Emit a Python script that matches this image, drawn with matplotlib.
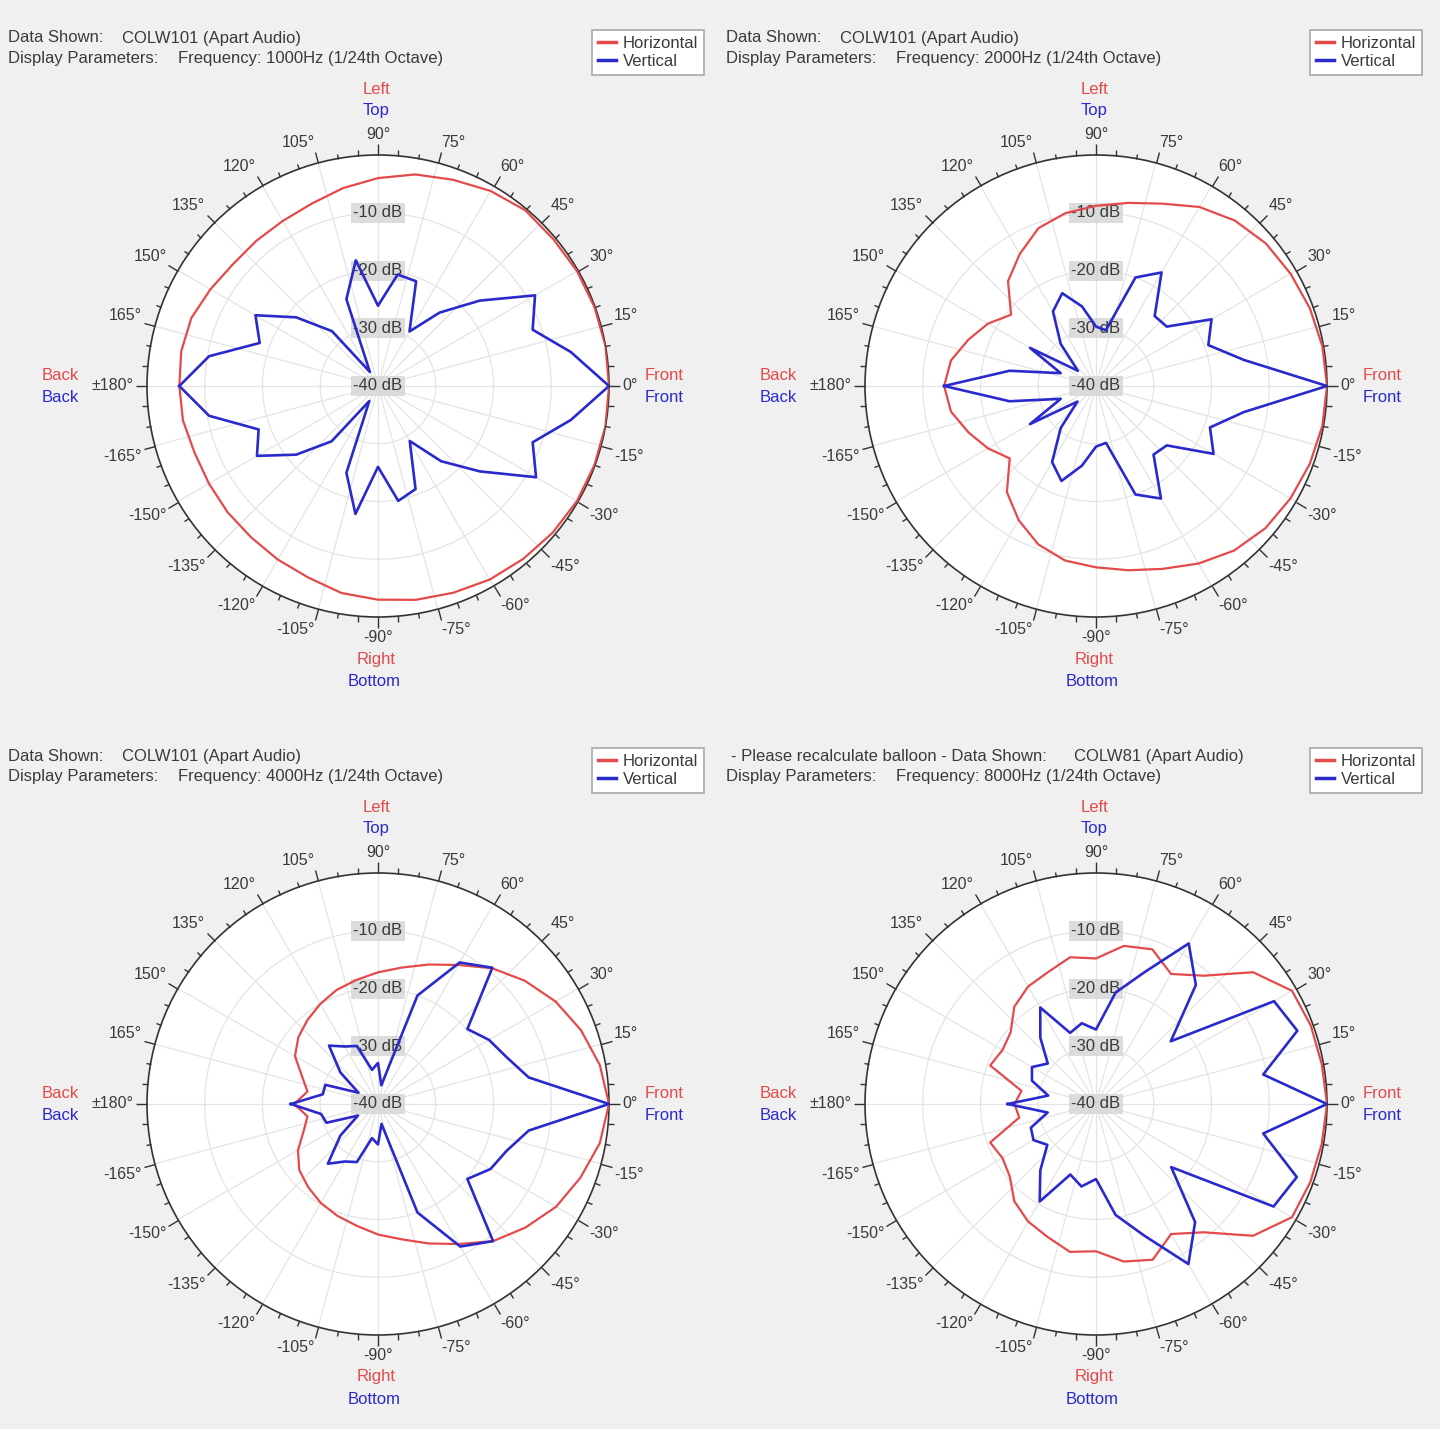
import numpy as np
import matplotlib
matplotlib.use("Agg")
import matplotlib.pyplot as plt
from matplotlib.lines import Line2D
from matplotlib.ticker import FixedLocator

plt.rcParams['font.family'] = ['Liberation Sans', 'DejaVu Sans']

# angles in degrees, -180 .. 180 every 10 deg
ANGLES = list(range(-180, 181, 10))

# 1000 Hz
P1_H = [-5.6, -5.7, -6.2, -6.2, -6.0, -5.8, -5.3, -4.7, -3.6, -3.0, -2.4, -1.9, -1.3, -0.9, -0.5, -0.2, -0.1, 0.0,
        0.0, 0.0, -0.1, -0.2, -0.4, -0.3, -1.0, -2.0, -2.8, -4.0, -5.2, -6.4, -7.0, -7.2, -7.2, -6.5, -5.6, -5.4, -5.6]
P1_V = [-5.6, -10.3, -18.0, -15.8, -21.5, -27.5, -37.0, -24.0, -17.5, -26.0, -19.8, -21.0, -29.0, -23.0, -17.0, -8.4, -11.5, -6.1,
        0.0, -6.1, -11.5, -8.6, -17.0, -23.4, -29.1, -20.7, -20.4, -26.1, -17.9, -24.0, -37.2, -27.6, -21.5, -15.5, -18.2, -10.3, -5.6]

# 2000 Hz
P2_H = [-13.7, -14.5, -16.5, -18.4, -20.5, -16.0, -13.2, -10.8, -9.3, -8.6, -7.6, -6.3, -4.5, -2.8, -1.7, -1.1, -0.6, -0.2,
        0.0, -0.2, -0.6, -1.1, -1.6, -2.6, -4.2, -6.4, -7.8, -8.8, -9.6, -10.9, -13.6, -16.3, -20.8, -18.4, -16.5, -14.5, -13.7]
P2_V = [-13.7, -24.8, -33.5, -26.8, -35.8, -30.5, -24.8, -22.5, -26.0, -29.5, -30.0, -20.0, -17.5, -24.5, -24.0, -16.5, -19.0, -14.0,
        0.0, -14.0, -19.3, -16.9, -24.0, -24.2, -17.3, -20.0, -30.2, -29.7, -26.0, -22.9, -25.1, -30.5, -35.9, -26.8, -33.5, -24.8, -13.7]

# 4000 Hz
P3_H = [-25.5, -27.6, -26.3, -24.0, -22.2, -21.2, -20.2, -19.4, -18.6, -17.4, -16.2, -14.3, -12.0, -9.0, -6.7, -4.4, -2.7, -1.0,
        0.0, -1.0, -2.6, -4.5, -6.8, -9.3, -12.2, -14.3, -16.0, -17.2, -18.2, -19.0, -20.0, -21.0, -22.0, -23.4, -26.0, -27.6, -25.5]
P3_V = [-24.9, -30.0, -30.5, -36.0, -31.5, -26.5, -28.5, -29.3, -34.0, -33.0, -36.5, -20.0, -11.5, -9.0, -19.8, -17.5, -16.3, -13.5,
        0.0, -13.5, -16.3, -17.8, -19.8, -9.2, -11.7, -20.0, -36.7, -32.9, -34.0, -29.3, -28.5, -26.8, -31.5, -36.1, -30.3, -30.3, -24.9]

# 8000 Hz
P4_H = [-25.9, -26.5, -20.5, -21.3, -20.5, -18.0, -16.5, -15.5, -14.0, -14.5, -12.3, -11.3, -14.0, -11.0, -4.5, -0.8, -0.5, -0.3,
        0.0, -0.3, -0.4, -0.8, -4.5, -11.0, -14.0, -11.5, -12.2, -14.8, -14.2, -15.7, -16.5, -18.0, -20.7, -21.3, -20.5, -26.9, -25.9]
P4_V = [-24.7, -31.5, -28.0, -27.5, -29.0, -25.0, -20.5, -27.0, -25.5, -27.0, -20.5, -15.8, -8.0, -13.3, -23.0, -4.5, -3.0, -10.6,
        0.0, -10.6, -2.9, -4.4, -23.1, -13.1, -7.9, -15.8, -20.4, -27.1, -25.8, -26.9, -20.7, -25.0, -29.1, -27.2, -28.2, -31.6, -24.7]

DATA_NAMES = ["COLW101 (Apart Audio)", "COLW101 (Apart Audio)", "COLW101 (Apart Audio)", "COLW81 (Apart Audio)"]
FREQS = ["1000Hz", "2000Hz", "4000Hz", "8000Hz"]
DB_LABELS = [-10, -20, -30, -40]

RED = '#e44a4a'
BLUE = '#2a2acc'
TXT = '#3a3a3a'

W, H = 1440, 1429
R = 231
fig = plt.figure(figsize=(W / 100, H / 100), dpi=100, facecolor='#f0f0f0')


def fx(x):
    return x / W


def fy(y):
    return 1 - y / H


panels = [
    (0, 0, P1_H, P1_V),
    (718, 0, P2_H, P2_V),
    (0, 718, P3_H, P3_V),
    (718, 718, P4_H, P4_V),
]

for i, (ox, oy, hor, ver) in enumerate(panels):
    cx, cy = ox + 378, oy + 386
    ax = fig.add_axes([fx(cx - R), fy(cy + R), 2 * R / W, 2 * R / H], projection='polar')
    ax.set_facecolor('white')
    ax.set_ylim(-40, 0)
    ax.set_yticks([-30, -20, -10])
    ax.set_yticklabels([])
    ax.tick_params(axis='y', length=0)
    ax.set_xticks(np.radians(np.arange(0, 360, 15)))
    ax.set_xticklabels([])
    ax.xaxis.set_minor_locator(FixedLocator(np.radians(np.arange(0, 360, 5))))
    # outer ring ticks (tick2 = outer edge of a polar axes)
    ax.tick_params(axis='x', which='both', top=True, bottom=False, direction='out', color='#333333', width=1)
    ax.tick_params(axis='x', which='major', length=8)
    ax.tick_params(axis='x', which='minor', length=4)
    ax.grid(True, color='#e4e4e4', lw=0.9)
    ax.spines['polar'].set_color('#333333')
    ax.spines['polar'].set_linewidth(1.2)

    th = np.radians(ANGLES)
    ax.plot(th, hor, color=RED, lw=1.6, zorder=4)
    ax.plot(th, ver, color=BLUE, lw=1.9, zorder=5)

    # dB labels up the 90 deg line
    for v in DB_LABELS:
        ax.text(np.pi / 2, v, f"{v} dB", ha='center', va='center', fontsize=12, color=TXT, zorder=2,
                bbox=dict(boxstyle='square,pad=0.15', fc='#d6d6d6', ec='none', alpha=0.85))

    # angle labels
    for a in range(-165, 181, 15):
        t = np.radians(a)
        c, s = np.cos(t), np.sin(t)
        ha = 'left' if c > 0.2 else ('right' if c < -0.2 else 'center')
        va = 'bottom' if s > 0.2 else ('top' if s < -0.2 else 'center')
        lab = "±180°" if a == 180 else f"{a}°"
        ax.text(t, 2.3, lab, ha=ha, va=va, fontsize=11.5, color=TXT, clip_on=False)

    # direction labels
    fig.text(fx(cx - 2), fy(cy - 296), "Left", color=RED, ha='center', va='center', fontsize=12)
    fig.text(fx(cx - 2), fy(cy - 275), "Top", color=BLUE, ha='center', va='center', fontsize=12)
    fig.text(fx(cx - 2), fy(cy + 273), "Right", color=RED, ha='center', va='center', fontsize=12)
    fig.text(fx(cx - 4), fy(cy + 295), "Bottom", color=BLUE, ha='center', va='center', fontsize=12)
    fig.text(fx(cx - 318), fy(cy - 11), "Back", color=RED, ha='center', va='center', fontsize=12)
    fig.text(fx(cx - 318), fy(cy + 11), "Back", color=BLUE, ha='center', va='center', fontsize=12)
    fig.text(fx(cx + 286), fy(cy - 11), "Front", color=RED, ha='center', va='center', fontsize=12)
    fig.text(fx(cx + 286), fy(cy + 11), "Front", color=BLUE, ha='center', va='center', fontsize=12)

    # header text
    if i == 3:
        fig.text(fx(ox + 13), fy(oy + 38), "- Please recalculate balloon - Data Shown:", color=TXT, va='center', fontsize=12)
        fig.text(fx(ox + 356), fy(oy + 38), DATA_NAMES[i], color=TXT, va='center', fontsize=12)
    else:
        fig.text(fx(ox + 8), fy(oy + 38), "Data Shown:", color=TXT, va='center', fontsize=12)
        fig.text(fx(ox + 122), fy(oy + 38), DATA_NAMES[i], color=TXT, va='center', fontsize=12)
    fig.text(fx(ox + 8), fy(oy + 59), "Display Parameters:", color=TXT, va='center', fontsize=12)
    fig.text(fx(ox + 178), fy(oy + 59), f"Frequency: {FREQS[i]} (1/24th Octave)", color=TXT, va='center', fontsize=12)

    handles = [Line2D([], [], color=RED, lw=2.5), Line2D([], [], color=BLUE, lw=2.5)]
    leg = ax.legend(handles, ["Horizontal", "Vertical"], loc='upper left',
                    bbox_to_anchor=(fx(ox + 592), fy(oy + 30)), bbox_transform=fig.transFigure,
                    fancybox=False, edgecolor='#a8a8a8', framealpha=1, fontsize=12,
                    handlelength=1.1, handletextpad=0.4, borderpad=0.35, borderaxespad=0,
                    labelspacing=0.2)
    leg.get_frame().set_linewidth(1.2)
    for t in leg.get_texts():
        t.set_color(TXT)

fig.savefig("out.png", dpi=100, facecolor=fig.get_facecolor())
